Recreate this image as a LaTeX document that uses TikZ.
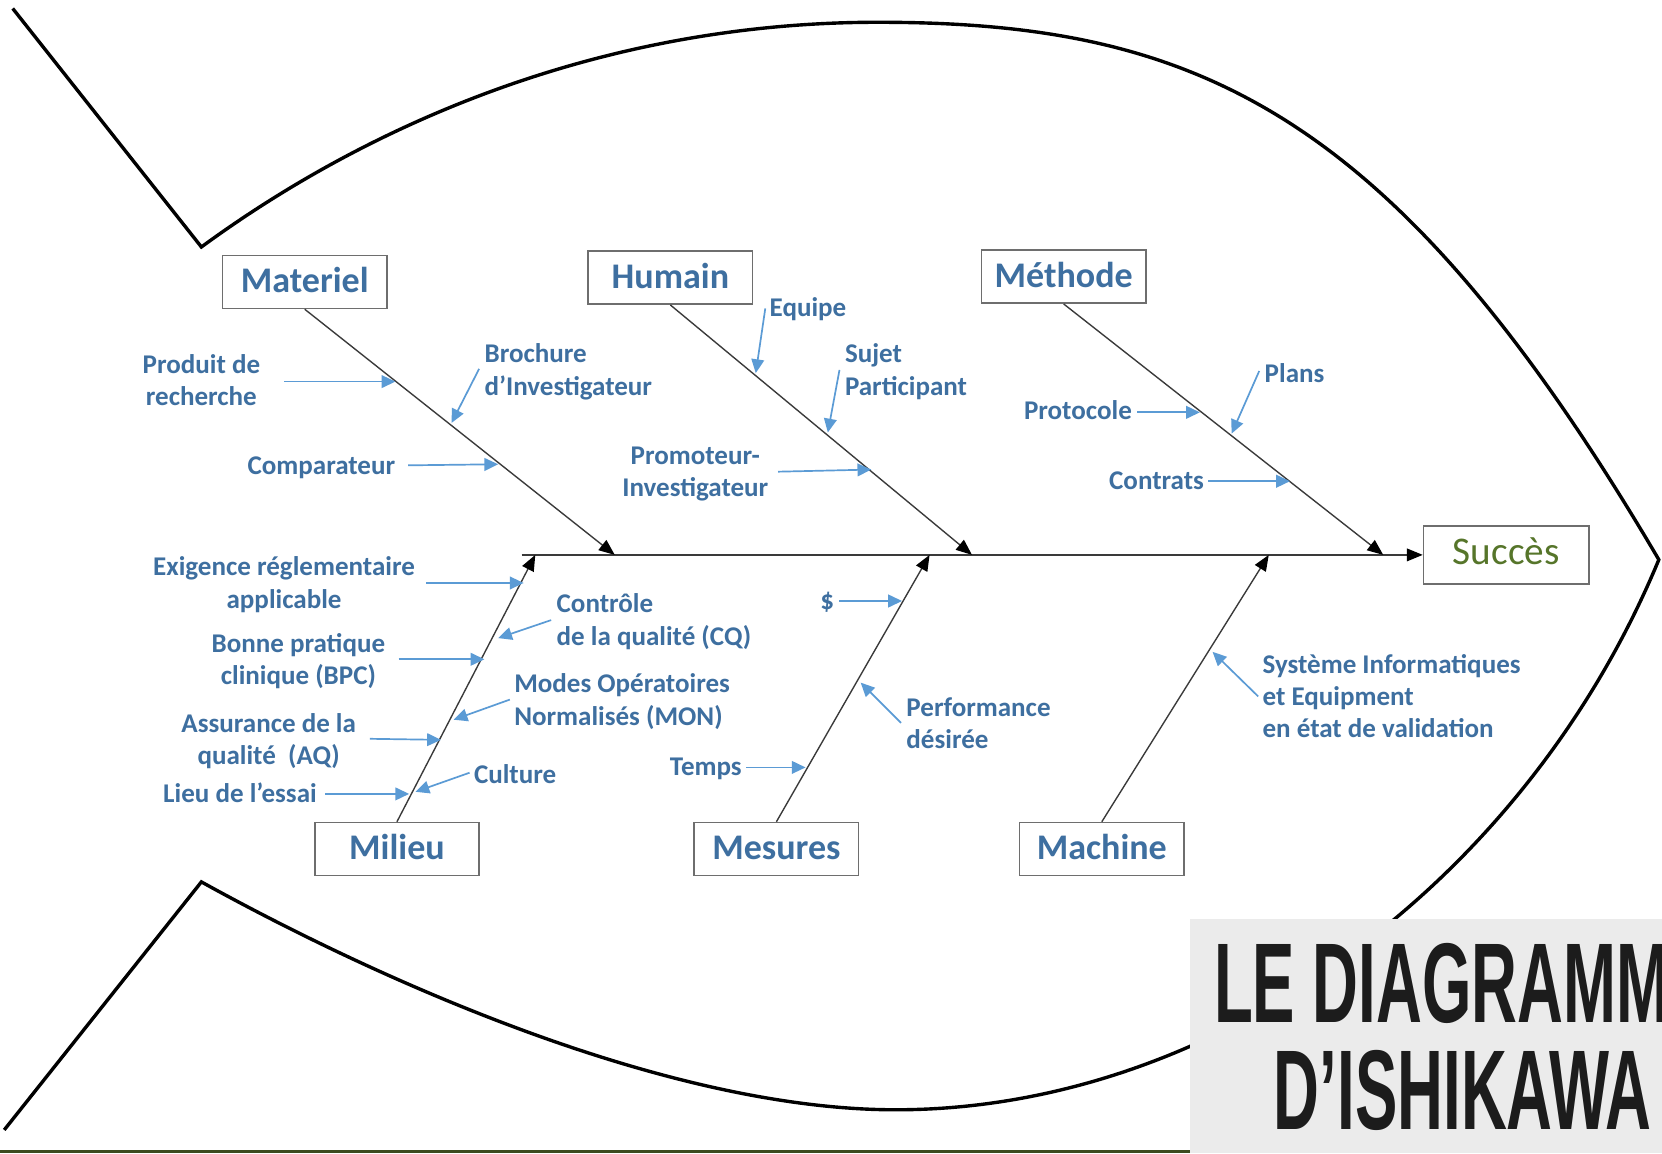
\documentclass[tikz,border=0pt]{standalone}
\usepackage{fontspec}
\usepackage{graphicx}
\setmainfont{Carlito}
\newfontfamily\titlefont{Liberation Sans}
\usetikzlibrary{arrows.meta}
\definecolor{catblue}{HTML}{3E6FA0}
\definecolor{arrblue}{HTML}{5B9BD5}
\definecolor{boxgray}{HTML}{6E6E6E}
\definecolor{bonegray}{HTML}{3A3A3A}
\definecolor{succgreen}{HTML}{56752A}
\definecolor{stripolive}{HTML}{3C4A1E}
\definecolor{titlebg}{HTML}{EBEBEB}
\definecolor{titletext}{HTML}{1C1C1C}
\begin{document}
\begin{tikzpicture}[x=1pt,y=-1pt,
  catbox/.style={draw=boxgray, line width=1.5pt, fill=white, minimum width=155pt, minimum height=50pt, inner sep=0pt, text=catblue, font=\bfseries\fontsize{34}{40}\selectfont, text height=20pt, text depth=0pt},
  lbl/.style={text=catblue, font=\bfseries\fontsize{25.5}{31}\selectfont, inner sep=0pt},
  bone/.style={draw=bonegray, line width=1.3pt, -{Triangle[length=15pt,width=12pt,color=black]}},
  subarr/.style={draw=arrblue, line width=1.6pt, -{Triangle[length=13pt,width=12pt]}},
  fish/.style={draw=black, line width=3.2pt, line join=miter},
  titletxt/.style={anchor=base, inner sep=0pt, text=titletext}
]
\useasboundingbox (0,0) rectangle (1568,1088);
\fill[white] (0,0) rectangle (1568,1088);
\clip (0,0) rectangle (1568,1088);

% fish outline
\draw[fish] (12,8) -- (190,233)
  .. controls (358,110) and (578,21) .. (828,21)
  .. controls (1128,21) and (1315,103) .. (1565,528)
  .. controls (1440,830) and (1150,1047) .. (845,1047)
  .. controls (630,1047) and (358,925) .. (190,832)
  -- (4,1066);

% category boxes
\node[catbox] (materiel) at (287.5,266) {Materiel};
\node[catbox] (humain) at (632.5,262) {Humain};
\node[catbox] (methode) at (1003.5,261) {Méthode};
\node[catbox] (milieu) at (374.5,801) {Milieu};
\node[catbox] (mesures) at (732.5,801) {Mesures};
\node[catbox] (machine) at (1039.5,801) {Machine};
\node[catbox, minimum width=156pt, minimum height=55pt, text=succgreen, font=\fontsize{37}{42}\selectfont, text height=19pt] (succes) at (1421,523.5) {Succès};

% spine and bones
\coordinate (spineL) at (492,523.5);
\coordinate (hMat) at (580,523.5);
\coordinate (hHum) at (917,523.5);
\coordinate (hMet) at (1305,523.5);
\coordinate (hMil) at (505,523.5);
\coordinate (hMes) at (877,523.5);
\coordinate (hMac) at (1197,523.5);
\draw[bone] (spineL) -- (succes.west);
\draw[bone] (materiel.south) -- (hMat);
\draw[bone] (humain.south) -- (hHum);
\draw[bone] (methode.south) -- (hMet);
\draw[bone] (milieu.north) -- (hMil);
\draw[bone] (mesures.north) -- (hMes);
\draw[bone] (machine.north) -- (hMac);

% sub-cause arrow end points
\coordinate (tProd) at (268,360);   \coordinate (aProd) at (373,360);
\coordinate (tBroch) at (452,348);  \coordinate (aBroch) at (426,399);
\coordinate (tComp) at (385,439);   \coordinate (aComp) at (470,438);
\coordinate (tEq) at (722,291);     \coordinate (aEq) at (713,352);
\coordinate (tSuj) at (792,349);    \coordinate (aSuj) at (781,408);
\coordinate (tPromo) at (734,445);  \coordinate (aPromo) at (822,443);
\coordinate (tPlans) at (1188,350); \coordinate (aPlans) at (1162,409);
\coordinate (tProto) at (1073,389); \coordinate (aProto) at (1132,389);
\coordinate (tContr) at (1140,454); \coordinate (aContr) at (1217,454);
\coordinate (tExig) at (402,550);   \coordinate (aExig) at (494,550);
\coordinate (tCtrl) at (520,585);   \coordinate (aCtrl) at (470,602);
\coordinate (tBonne) at (376,622);  \coordinate (aBonne) at (457,622);
\coordinate (tModes) at (481,660);  \coordinate (aModes) at (428,679);
\coordinate (tAssur) at (349,697);  \coordinate (aAssur) at (416,698);
\coordinate (tCult) at (443,729);   \coordinate (aCult) at (392,747);
\coordinate (tLieu) at (307,749);   \coordinate (aLieu) at (386,749);
\coordinate (tDol) at (792,567);    \coordinate (aDol) at (851,567);
\coordinate (tPerf) at (850,682);   \coordinate (aPerf) at (812,644);
\coordinate (tTemps) at (704,724);  \coordinate (aTemps) at (760,724);
\coordinate (tSys) at (1187,657);   \coordinate (aSys) at (1144,615);

\foreach \n in {Prod,Broch,Comp,Eq,Suj,Promo,Plans,Proto,Contr,Exig,Ctrl,Bonne,Modes,Assur,Cult,Lieu,Dol,Perf,Temps,Sys}
  \draw[subarr] (t\n) -- (a\n);

% labels
\node[lbl, anchor=base] (lProd1) at (190,352) {Produit de};
\node[lbl, anchor=base] (lProd2) at (190,383) {recherche};
\node[lbl, anchor=base west] (lBroch1) at (457,342) {Brochure};
\node[lbl, anchor=base west] (lBroch2) at (457,373) {d’Investigateur};
\node[lbl, anchor=base east] (lComp) at (373,448) {Comparateur};
\node[lbl, anchor=base west] (lEq) at (726,299) {Equipe};
\node[lbl, anchor=base west] (lSuj1) at (797,342) {Sujet};
\node[lbl, anchor=base west] (lSuj2) at (797,373) {Participant};
\node[lbl, anchor=base] (lPromo1) at (656,438) {Promoteur-};
\node[lbl, anchor=base] (lPromo2) at (656,468) {Investigateur};
\node[lbl, anchor=base west] (lPlans) at (1193,361) {Plans};
\node[lbl, anchor=base east] (lProto) at (1068,396) {Protocole};
\node[lbl, anchor=base east] (lContr) at (1136,462) {Contrats};
\node[lbl, anchor=base] (lExig1) at (268,543) {Exigence réglementaire};
\node[lbl, anchor=base] (lExig2) at (268,574) {applicable};
\node[lbl, anchor=base west] (lCtrl1) at (525,578) {Contrôle};
\node[lbl, anchor=base west] (lCtrl2) at (525,609) {de la qualité (CQ)};
\node[lbl, anchor=base] (lBonne1) at (281.5,616) {Bonne pratique};
\node[lbl, anchor=base] (lBonne2) at (281.5,646) {clinique (BPC)};
\node[lbl, anchor=base west] (lModes1) at (485,653) {Modes Opératoires};
\node[lbl, anchor=base west] (lModes2) at (485,684) {Normalisés (MON)};
\node[lbl, anchor=base] (lAssur1) at (253.5,691) {Assurance de la};
\node[lbl, anchor=base] (lAssur2) at (253.5,721) {qualité~~(AQ)};
\node[lbl, anchor=base west] (lCult) at (447,739) {Culture};
\node[lbl, anchor=base east] (lLieu) at (299,757) {Lieu de l’essai};
\node[lbl, anchor=base east] (lDol) at (787,575) {\$};
\node[lbl, anchor=base west] (lPerf1) at (855,676) {Performance};
\node[lbl, anchor=base west] (lPerf2) at (855,706) {désirée};
\node[lbl, anchor=base east] (lTemps) at (700,732) {Temps};
\node[lbl, anchor=base west] (lSys1) at (1191,635) {Système Informatiques};
\node[lbl, anchor=base west] (lSys2) at (1191,666) {et Equipment};
\node[lbl, anchor=base west] (lSys3) at (1191,696) {en état de validation};

% title block and bottom strip
\fill[titlebg] (1123,867) rectangle (1568,1088);
\node[titletxt] (title1) at (1380,965) {\scalebox{0.56}[1]{\titlefont\bfseries\fontsize{107}{107}\selectfont LE DIAGRAMME}};
\node[titletxt] (title2) at (1380,1066) {\scalebox{0.56}[1]{\titlefont\bfseries\fontsize{107}{107}\selectfont D’ISHIKAWA}};
\fill[stripolive] (0,1084.5) rectangle (1123,1088);
\end{tikzpicture}
\end{document}
